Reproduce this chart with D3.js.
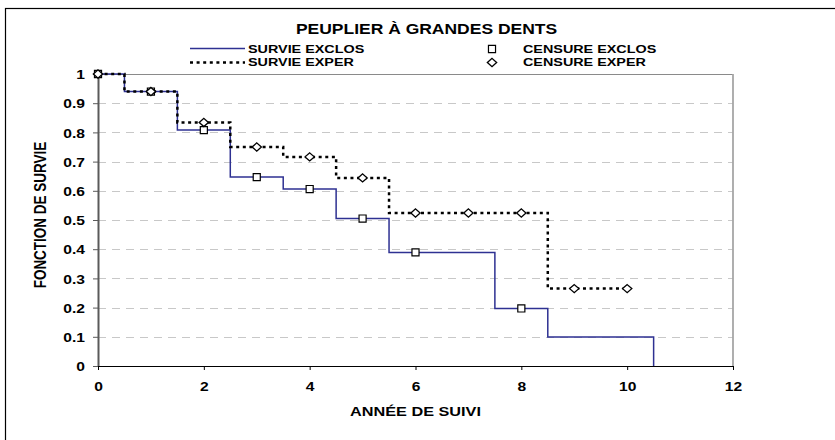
<!DOCTYPE html>
<html>
<head>
	<meta charset="utf-8">
	<style>
		body {
			margin: 0;
			background-color: white;
		}
		svg {
			display: block;
			font-family: "Liberation Sans", Arial, sans-serif;
			font-weight: bold;
		}
		.grid line {
			stroke: #c8c8c8;
			stroke-width: 1px;
			stroke-dasharray: 8, 6;
		}
		.y.axis path {
			stroke: #5a5a5a;
			stroke-width: 2px;
		}
		.y.axis line {
			stroke: #5a5a5a;
		}
		.x.axis path, .x.axis line {
			stroke: #000;
		}
		.axis text {
			font-size: 12.5px;
			fill: #000;
		}
		.exclos {
			fill: none;
			stroke: #2e3192;
			stroke-width: 1.5px;
		}
		.exper {
			fill: none;
			stroke: #000;
			stroke-width: 2.5px;
			stroke-dasharray: 3, 3.6;
		}
		.marker {
			fill: white;
			stroke: #000;
			stroke-width: 1.2px;
		}
	</style>
</head>
<body>
<script src="https://d3js.org/d3.v7.min.js"></script>
<script>
	// survival step curves (time of each step, survival after the step)
	var exclosTimes = [0, 0.5, 1.5, 2.5, 3.5, 4.5, 5.5, 7.5, 8.5, 10.5];
	var exclosSurv = [1, 0.94, 0.808, 0.647, 0.606, 0.505, 0.389, 0.197, 0.099, 0];
	var experTimes = [0, 0.5, 1.5, 2.5, 3.5, 4.5, 5.5, 8.5, 10];
	var experSurv = [1, 0.94, 0.834, 0.75, 0.716, 0.644, 0.524, 0.265, 0.265];
	// censoring marks
	var censExclosX = [0, 1, 2, 3, 4, 5, 6, 8];
	var censExclosY = [1, 0.94, 0.808, 0.647, 0.606, 0.505, 0.389, 0.197];
	var censExperX = [0, 1, 2, 3, 4, 5, 6, 7, 8, 9, 10];
	var censExperY = [1, 0.94, 0.834, 0.75, 0.716, 0.644, 0.524, 0.524, 0.524, 0.265, 0.265];

	var xTicks = [0, 2, 4, 6, 8, 10, 12];
	var yTicks = [0, 0.1, 0.2, 0.3, 0.4, 0.5, 0.6, 0.7, 0.8, 0.9, 1];
	var title = "PEUPLIER À GRANDES DENTS";
	var legendNames = ["SURVIE EXCLOS", "SURVIE EXPER", "CENSURE EXCLOS", "CENSURE EXPER"];
	var xTitle = "ANNÉE DE SUIVI";
	var yTitle = "FONCTION DE SURVIE";

	var W = 835, H = 440;
	var stretch = 1.25; // the text in the picture is drawn wide
	var plot = {left: 98, right: 733, top: 74, bottom: 366};

	var svg = d3.select("body").append("svg")
			.attr("width", W)
			.attr("height", H);

	// chart area border (runs off the picture on the right and bottom)
	svg.append("rect")
			.attr("x", 5.5)
			.attr("y", 8.5)
			.attr("width", 900)
			.attr("height", 500)
			.attr("fill", "white")
			.attr("stroke", "#000")
			.attr("stroke-width", 1.2);

	var x = d3.scaleLinear().domain([0, 12]).range([plot.left, plot.right]);
	var y = d3.scaleLinear().domain([0, 1]).range([plot.bottom, plot.top]);

	function wideText(sel, px, py, anchor, size, txt) {
		return sel.append("text")
				.attr("transform", "translate(" + px + "," + py + ") scale(" + stretch + ",1)")
				.attr("text-anchor", anchor)
				.attr("font-size", size)
				.text(txt);
	}

	// grid
	svg.append("g")
			.attr("class", "grid")
		.selectAll("line")
			.data(yTicks.filter(function(d) { return d > 0 && d < 1; }))
		.enter().append("line")
			.attr("x1", plot.left)
			.attr("x2", plot.right)
			.attr("y1", function(d) { return Math.round(y(d)) + 0.5; })
			.attr("y2", function(d) { return Math.round(y(d)) + 0.5; });

	// plot border top and right
	svg.append("line")
			.attr("x1", plot.left).attr("x2", plot.right)
			.attr("y1", plot.top + 0.5).attr("y2", plot.top + 0.5)
			.attr("stroke", "#8a8a8a");
	svg.append("line")
			.attr("x1", plot.right).attr("x2", plot.right)
			.attr("y1", plot.top).attr("y2", plot.bottom)
			.attr("stroke", "#a6a6a6")
			.attr("stroke-width", 1.8);

	// axes
	var yAxis = d3.axisLeft(y)
			.tickValues(yTicks)
			.tickSize(5)
			.tickSizeOuter(0)
			.tickFormat(function(d) { return d3.format("~g")(d); });
	var gy = svg.append("g")
			.attr("class", "y axis")
			.attr("transform", "translate(" + plot.left + ",0)")
			.call(yAxis);
	gy.selectAll("text")
			.attr("x", 0)
			.attr("dy", 0)
			.attr("transform", "translate(-13,4.6) scale(" + stretch + ",1)");

	var xAxis = d3.axisBottom(x)
			.tickValues(xTicks)
			.tickSize(4)
			.tickSizeOuter(0);
	var gx = svg.append("g")
			.attr("class", "x axis")
			.attr("transform", "translate(0," + plot.bottom + ")")
			.call(xAxis);
	gx.selectAll("text")
			.attr("y", 0)
			.attr("dy", 0)
			.attr("transform", "translate(0,24.5) scale(" + stretch + ",1)");

	// survival curves
	var step = d3.line()
			.x(function(d) { return x(d[0]); })
			.y(function(d) { return y(d[1]); })
			.curve(d3.curveStepAfter);
	svg.append("path")
			.attr("class", "exclos")
			.attr("d", step(d3.zip(exclosTimes, exclosSurv)));
	svg.append("path")
			.attr("class", "exper")
			.attr("d", step(d3.zip(experTimes, experSurv)));

	var square = d3.symbol().type(d3.symbolSquare).size(50);
	var diamond = d3.symbol().type(d3.symbolDiamond2).size(42);

	svg.append("g")
		.selectAll("path")
			.data(d3.zip(censExclosX, censExclosY))
		.enter().append("path")
			.attr("class", "marker")
			.attr("d", square)
			.attr("transform", function(d) { return "translate(" + x(d[0]) + "," + y(d[1]) + ")"; });
	svg.append("g")
		.selectAll("path")
			.data(d3.zip(censExperX, censExperY))
		.enter().append("path")
			.attr("class", "marker")
			.attr("d", diamond)
			.attr("transform", function(d) { return "translate(" + x(d[0]) + "," + y(d[1]) + ") scale(1.15,1)"; });

	// titles
	wideText(svg, 426.5, 34, "middle", 14, title);
	wideText(svg, (plot.left + plot.right) / 2, 416, "middle", 13, xTitle);
	svg.append("text")
			.attr("transform", "translate(46,215) scale(1.2,1) rotate(-90)")
			.attr("text-anchor", "middle")
			.attr("font-size", 13.5)
			.text(yTitle);

	// legend
	var legend = svg.append("g");
	legend.append("line")
			.attr("class", "exclos")
			.attr("x1", 190).attr("x2", 245)
			.attr("y1", 48.5).attr("y2", 48.5);
	legend.append("line")
			.attr("class", "exper")
			.attr("x1", 190).attr("x2", 245)
			.attr("y1", 62.5).attr("y2", 62.5);
	legend.append("path")
			.attr("class", "marker")
			.attr("d", square)
			.attr("transform", "translate(492,49)");
	legend.append("path")
			.attr("class", "marker")
			.attr("d", diamond)
			.attr("transform", "translate(492,62.5) scale(1.15,1)");
	wideText(legend, 248, 52.5, "start", 11.5, legendNames[0]);
	wideText(legend, 248, 66, "start", 11.5, legendNames[1]);
	wideText(legend, 523, 52.5, "start", 11.5, legendNames[2]);
	wideText(legend, 523, 66, "start", 11.5, legendNames[3]);
</script>
</body>
</html>
